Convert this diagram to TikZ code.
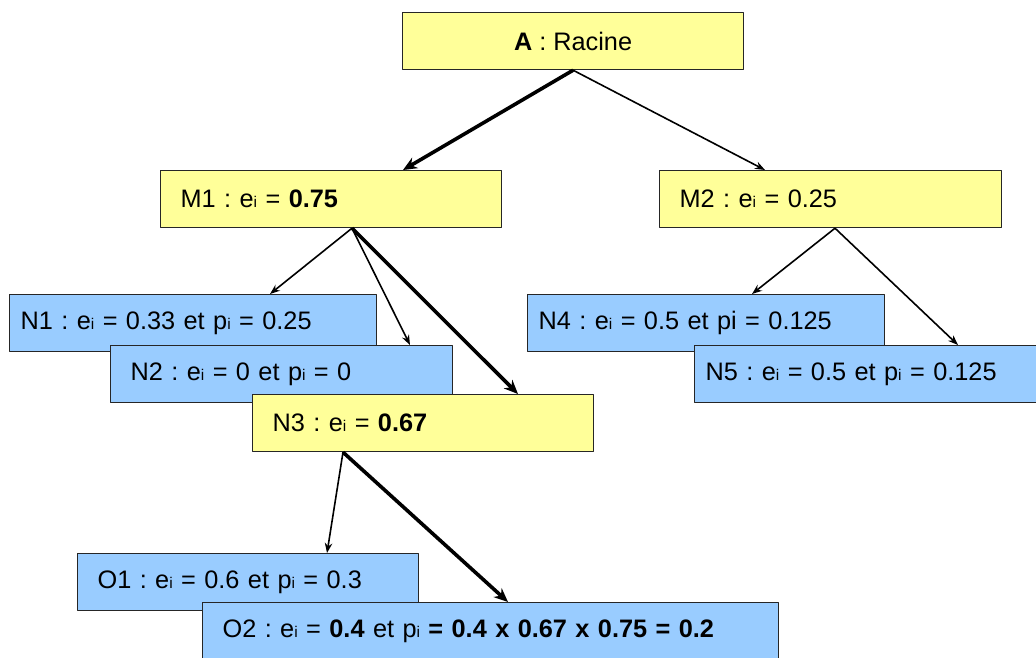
\documentclass[tikz,border=0pt]{standalone}
\usepackage{fontspec}
\setmainfont{Liberation Sans}
\usetikzlibrary{arrows,arrows.meta,positioning,calc}
\definecolor{jaune}{RGB}{255,255,153}
\definecolor{bleu}{RGB}{153,204,255}
\frenchspacing
\newcommand{\ix}{{\fontsize{15.5}{15.5}\selectfont i}}
\tikzset{
  boite/.style={draw=black!85, line width=1.2pt, anchor=north west, minimum height=57pt,
    inner xsep=20pt, inner ysep=0pt, align=left, font=\fontsize{25.3}{29}\selectfont},
  serre/.style={inner xsep=11pt},
  oui/.style={boite, fill=jaune},
  non/.style={boite, fill=bleu},
  fin/.style={-{Stealth[length=10pt,width=7.5pt]}, line width=1.6pt},
  fort/.style={-{Stealth[length=14pt,width=12pt]}, line width=3.6pt}
}
\begin{document}
\begin{tikzpicture}[x=1pt, y=-1pt, line join=round]
\useasboundingbox (0,0) rectangle (1036,657);
\node[oui, align=center, minimum width=341pt] (A)  at (402,12)  {\textbf{A} : Racine};
\node[oui, text width=301pt]  (M1) at (160,170) {M1 : e\ix{} = \textbf{0.75}};
\node[oui, text width=302pt]  (M2) at (659,170) {M2 : e\ix{} = 0.25};
\node[non, serre, text width=345pt]  (N1) at (9,294)   {N1 : e\ix{} = 0.33 et p\ix{} = 0.25};
\node[non, text width=302pt]  (N2) at (110,345) {N2 : e\ix{} = 0 et p\ix{} = 0};
\node[oui, text width=301pt]  (N3) at (252,394) {N3 : e\ix{} = \textbf{0.67}};
\node[non, serre, text width=335pt]  (N4) at (527,294) {N4 : e\ix{} = 0.5 et pi = 0.125};
\node[non, serre, text width=338pt]  (N5) at (694,345) {N5 : e\ix{} = 0.5 et p\ix{} = 0.125};
\node[non, text width=301pt]  (O1) at (77,553)  {O1 : e\ix{} = 0.6 et p\ix{} = 0.3};
\node[non, text width=536pt]  (O2) at (202,602) {O2 : e\ix{} = \textbf{0.4} et p\ix{} \textbf{= 0.4 x 0.67 x 0.75 = 0.2}};
% premier niveau
\draw[fort] (A.south) -- ($(M1.north west)+(243,0)$);
\draw[fin]  (A.south) -- ($(M2.north west)+(106,0)$);
% sous M1
\draw[fin]  ($(M1.south west)+(192,0)$) -- ($(N1.north west)+(261,0)$);
\draw[fin]  ($(M1.south west)+(192,0)$) -- ($(N2.north west)+(300,0)$);
\draw[fort] ($(M1.south west)+(192,0)$) -- ($(N3.north west)+(266,0)$);
% sous M2
\draw[fin]  ($(M2.south west)+(176,0)$) -- ($(N4.north west)+(225,0)$);
\draw[fin]  ($(M2.south west)+(176,0)$) -- ($(N5.north west)+(264,0)$);
% sous N3
\draw[fin]  ($(N3.south west)+(91,0)$) -- ($(O1.north west)+(250,0)$);
\draw[fort] ($(N3.south west)+(91,0)$) -- ($(O2.north west)+(306,0)$);
\end{tikzpicture}
\end{document}
